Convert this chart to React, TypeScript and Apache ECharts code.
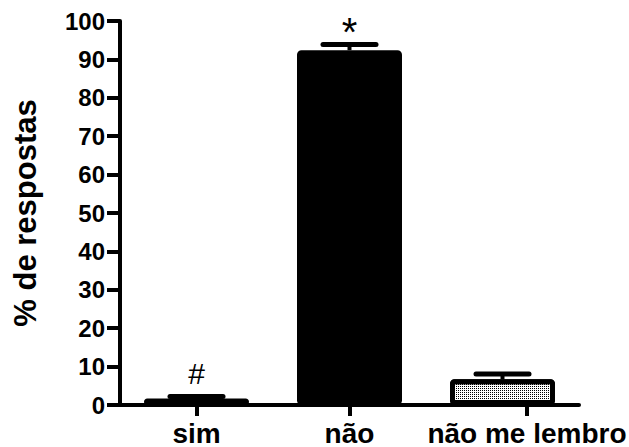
import React, { useEffect, useRef } from "react";
import * as echarts from "echarts";

const categories = ["sim", "não", "não me lembro"];
const means = [1.7, 92.4, 6.7];
const errors = [0.5, 1.5, 1.4];
const annotations = ["#", "*", ""];
// category-axis coordinates where the tick marks / labels sit in the original figure
const labelPositions = [0, 1, 2.16];
const yMin = 0;
const yMax = 100;
const yInterval = 10;

const FONT = "Liberation Sans, Arial, Helvetica, sans-serif";

export default function App() {
  const ref = useRef<HTMLDivElement>(null);
  useEffect(() => {
    if (!ref.current) return;
    const chart = echarts.init(ref.current, undefined, { renderer: "svg" });
    const errData = categories.map((_, i) => [i, means[i] + errors[i], means[i]]);
    chart.setOption({
      animation: false,
      backgroundColor: "#fff",
      grid: {
        left: 120,
        right: 50,
        top: 21,
        bottom: 42,
        containLabel: false,
        outerBoundsMode: "none",
      },
      xAxis: [
        {
          type: "category",
          data: categories,
          axisLine: { show: true, onZero: false, lineStyle: { color: "#000", width: 4 } },
          axisTick: { show: false },
          axisLabel: { show: false },
          splitLine: { show: false },
        },
        {
          type: "value",
          position: "bottom",
          min: -0.5,
          max: 2.5,
          axisLine: { show: false, onZero: false },
          splitLine: { show: false },
          axisTick: {
            show: true,
            length: 11,
            lineStyle: { color: "#000", width: 4 },
            customValues: labelPositions,
          },
          axisLabel: {
            customValues: labelPositions,
            formatter: (v: number) => {
              let best = 0;
              labelPositions.forEach((p, i) => {
                if (Math.abs(p - v) < Math.abs(labelPositions[best] - v)) best = i;
              });
              return categories[best];
            },
            fontSize: 28,
            lineHeight: 28,
            fontWeight: "bold",
            fontFamily: FONT,
            color: "#000",
            margin: 14,
          },
        },
      ],
      yAxis: {
        type: "value",
        min: yMin,
        max: yMax,
        interval: yInterval,
        name: "% de respostas",
        nameLocation: "middle",
        nameGap: 79,
        nameTextStyle: { fontSize: 31, fontWeight: "bold", fontFamily: FONT, color: "#000" },
        axisLine: { show: true, onZero: false, lineStyle: { color: "#000", width: 4 } },
        axisTick: { show: true, length: 13, lineStyle: { color: "#000", width: 4 } },
        axisLabel: { fontSize: 24, fontWeight: "bold", fontFamily: FONT, color: "#000", margin: 15 },
        splitLine: { show: false },
      },
      series: [
        {
          type: "bar",
          xAxisIndex: 0,
          barWidth: 105,
          data: means.map((m, i) =>
            i === 2
              ? {
                  value: m,
                  itemStyle: {
                    color: "#fff",
                    decal: {
                      symbol: "rect",
                      symbolSize: 1,
                      dashArrayX: [1, 1],
                      dashArrayY: [1, 1],
                      color: "#000",
                      rotation: 0,
                    },
                  },
                }
              : { value: m, itemStyle: { color: "#000" } }
          ),
          itemStyle: { borderColor: "#000", borderWidth: 5, borderRadius: 2 },
          z: 2,
        },
        {
          type: "custom",
          xAxisIndex: 0,
          z: 3,
          data: errData,
          renderItem: (params: any, api: any) => {
            const top = api.coord([api.value(0), api.value(1)]);
            const base = api.coord([api.value(0), api.value(2)]);
            const label = annotations[params.dataIndex];
            const children: any[] = [
              {
                type: "line",
                shape: { x1: top[0], y1: top[1], x2: base[0], y2: base[1] },
                style: { stroke: "#000", lineWidth: 4 },
              },
              {
                type: "line",
                shape: { x1: top[0] - 26.5, y1: top[1], x2: top[0] + 26.5, y2: top[1] },
                style: { stroke: "#000", lineWidth: 5, lineCap: "round" },
              },
            ];
            if (label) {
              const isStar = label === "*";
              children.push({
                type: "text",
                x: top[0],
                y: top[1] - (isStar ? 12 : 23),
                style: {
                  text: label,
                  fontSize: isStar ? 40 : 30,
                  fontFamily: FONT,
                  fill: "#000",
                  align: "center",
                  verticalAlign: "middle",
                },
              });
            }
            return { type: "group", children };
          },
        },
      ],
    });
    return () => chart.dispose();
  }, []);
  return (
    <div
      ref={ref}
      style={{ position: "fixed", left: 0, top: 0, width: 629, height: 447, background: "#fff" }}
    />
  );
}
